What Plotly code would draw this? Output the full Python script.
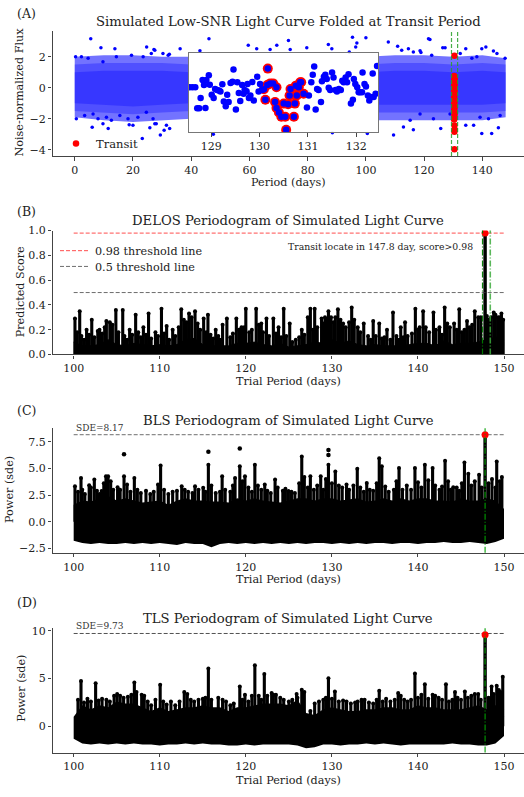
import plotly.graph_objects as go

FONT = "DejaVu Serif"
INK = "#222222"
AX = "#444444"

# ---------------- Panel A: folded light curve ----------------
cloud_days = [0, 10, 20, 30, 40, 50, 60, 70, 80, 90, 100, 110, 120, 130, 140, 148]
cloud_outer_hi = [2.0, 2.1, 2.1, 2.0, 2.0, 2.0, 2.0, 2.0, 2.0, 2.0, 2.0, 2.1, 2.1, 2.0, 2.1, 1.9]
cloud_outer_lo = [-1.9, -2.1, -2.2, -2.1, -2.0, -2.0, -2.0, -2.0, -2.0, -2.0, -2.1, -2.1, -2.1, -2.1, -2.1, -1.9]
cloud_mid_hi = [1.5, 1.6, 1.6, 1.6, 1.5, 1.5, 1.5, 1.5, 1.5, 1.5, 1.5, 1.6, 1.6, 1.5, 1.6, 1.5]
cloud_mid_lo = [-1.5, -1.6, -1.7, -1.6, -1.5, -1.5, -1.5, -1.5, -1.5, -1.5, -1.6, -1.6, -1.6, -1.6, -1.6, -1.5]
cloud_core_hi = [1.0, 1.1, 1.1, 1.1, 1.0, 1.0, 1.0, 1.0, 1.0, 1.0, 1.0, 1.1, 1.1, 1.0, 1.1, 1.0]
cloud_core_lo = [-1.0, -1.1, -1.2, -1.1, -1.0, -1.0, -1.0, -1.0, -1.0, -1.0, -1.1, -1.1, -1.1, -1.1, -1.1, -1.0]

outlier_days = [5.5, 9.0, 13.8, 24.7, 27.2, 32.5, 36.2, 43.0, 46.1, 59.6, 62.5, 67.1, 69.4, 73.4,
                74.0, 79.7, 87.1, 88.3, 94.3, 95.4, 96.5, 96.9, 100.0, 107.7, 110.9, 114.6, 118.6,
                121.5, 122.0, 126.4, 127.2, 134.3, 139.8, 141.2, 143.8,
                6.0, 9.7, 11.5, 18.7, 20.0, 23.2, 25.8, 27.5, 29.4, 30.7, 32.6, 47.6, 88.5, 100.5,
                109.5, 112.9, 116.3, 125.7, 134.3, 137.0, 139.8, 143.2, 145.5,
                0.3, 2.3, 4.6, 9.7, 14.3, 19.5, 23.5, 26.3, 27.5, 30.3, 32.1,
                112.3, 116.3, 118.9, 122.6, 132.4, 136.4, 138.1, 145.0, 147.8,
                0.55, 3.4, 6.3, 8.0, 10.9, 12.6, 15.5, 18.3, 21.7, 24.6, 26.9, 28.0, 31.5,
                115.2, 118.6, 123.2, 128.9, 139.2, 142.1, 146.1]
outlier_flux = [3.16, 2.57, 2.52, 2.63, 2.46, 2.15, 2.52, 2.38, 3.16, 2.74, 2.52, 2.46, 2.74, 3.05,
                2.46, 2.58, 2.78, 2.52, 2.31, 3.26, 2.63, 2.89, 3.22, 2.94, 2.67, 2.52, 2.38,
                3.16, 3.10, 2.57, 2.57, 2.52, 2.52, 2.63, 2.36,
                -2.55, -2.32, -2.63, -2.38, -2.42, -3.27, -2.57, -2.32, -3.05, -2.74, -2.63, -3.0, -2.9, -2.95,
                -3.05, -2.53, -2.70, -2.63, -2.42, -2.42, -2.95, -2.95, -2.57,
                2.0, 2.0, 1.9, 1.68, 2.0, 2.1, 2.0, 2.21, 2.42, 2.21, 2.1,
                2.42, 2.31, 2.27, 2.1, 2.21, 1.9, 2.0, 2.21, 1.9,
                -2.0, -1.79, -1.69, -2.0, -1.9, -2.1, -1.79, -2.0, -1.9, -1.58, -2.0, -2.32, -2.42,
                -2.1, -1.69, -2.0, -1.69, -1.9, -2.0, -1.79]

transit_days = [130.4, 130.3, 130.5, 130.4, 130.3, 130.5, 130.4, 130.3, 130.5, 130.4, 130.3, 130.5,
                130.4, 130.3, 130.5, 130.4, 130.3, 130.5, 130.4, 130.3, 130.5, 130.4, 130.4, 130.3,
                130.4, 130.5, 130.4, 130.4]
transit_flux = [2.06, 0.75, 0.62, 0.5, 0.4, 0.3, 0.2, 0.1, 0.0, -0.1, -0.2, -0.3, -0.45, -0.6, -0.78,
                -0.95, -1.1, -1.2, -1.35, -1.5, -1.65, -1.8, -1.95, -2.05, -2.43, -2.7, -2.84, -3.96]
transit_window = [129.4, 131.5]

inset_days = [128.55, 128.61, 128.67, 128.71, 128.75, 128.78, 128.82, 128.85, 128.88, 128.90,
              128.95, 128.97, 129.01, 129.05, 129.08, 129.12, 129.16, 129.19, 129.23, 129.26,
              129.30, 129.33, 129.36, 129.40, 129.44, 129.46, 129.51, 129.54, 129.57, 129.60,
              129.64, 129.67, 129.69, 129.73, 129.75, 129.78, 129.81, 129.85, 129.88, 129.95,
              129.98, 130.01, 130.05,
              130.98, 131.02, 131.07, 131.10, 131.13, 131.16, 131.19, 131.22, 131.27, 131.29,
              131.33, 131.36, 131.39, 131.43, 131.46, 131.50, 131.53, 131.57, 131.60, 131.64,
              131.68, 131.71, 131.74, 131.78, 131.81, 131.84, 131.89, 131.93, 131.95, 131.98,
              132.02, 132.05, 132.08, 132.12, 132.13, 132.17, 132.20, 132.24, 132.27, 132.30,
              132.34, 132.36, 132.40, 132.43]
inset_flux = [0.06, 0.06, 0.06, -1.26, -1.26, -0.62, 0.51, 0.20, -1.24, 0.51,
              0.82, 0.22, -0.42, -0.62, -0.05, -0.11, -0.15, -0.21, 0.24, -0.83,
              -1.14, -0.42, -0.87, 0.33, 0.41, 1.17, -1.34, 0.37, -0.31, -0.81,
              0.20, -0.35, -0.11, -0.19, 0.26, -0.62, -0.46, 0.39, -0.77, 0.72,
              -0.21, 0.26, -0.11,
              -1.22, -0.46, 0.37, 0.84, 1.36, -1.34, -0.05, -0.11, -0.87, 0.43,
              0.72, 0.84, 0.58, 0.02, -0.11, 0.98, 0.67, -0.11, -0.21, -0.05,
              -0.11, 0.47, 0.37, 0.67, 0.37, 0.88, -0.97, -0.72, 0.58, 0.26,
              0.06, -0.25, -0.25, -0.25, 0.98, 0.26, 0.10, -0.46, -0.77, -0.56,
              0.92, -0.56, -0.35, 1.40]
inset_transit_days = [130.09, 130.12, 130.16, 130.17, 130.22, 130.28, 130.32, 130.35, 130.35, 130.40,
                      130.45, 130.50, 130.53, 130.55, 130.59, 130.62, 130.64, 130.71, 130.73, 130.75,
                      130.77, 130.81, 130.84, 130.86, 130.91]
inset_transit_flux = [-0.07, -0.73, 0.20, 1.23, 0.30, 0.30, -0.87, 0.06, -1.24, -1.53,
                      -1.80, -0.97, -1.80, -2.62, -1.01, -0.46, -0.05, -1.80, -0.97, 0.16,
                      -0.46, 0.06, 0.37, 0.37, -0.35]

# ---------------- Periodograms (B, C, D) ----------------
trial_days = list(range(100, 151))
peak_period = 147.8

delos_band_hi = [0.10, 0.07, 0.07, 0.08, 0.12, 0.08, 0.07, 0.09, 0.08, 0.07, 0.08, 0.07, 0.08,
                 0.12, 0.13, 0.08, 0.07, 0.07, 0.07, 0.09, 0.09, 0.10, 0.08, 0.07, 0.09, 0.06,
                 0.07, 0.08, 0.10, 0.09, 0.12, 0.09, 0.11, 0.08, 0.07, 0.08, 0.07, 0.07, 0.07,
                 0.08, 0.09, 0.09, 0.07, 0.11, 0.08, 0.09, 0.09, 0.10, 0.12, 0.14, 0.12]
delos_spike_x = [100.15, 100.7, 101.5, 102.1, 102.8, 103.0, 103.8, 104.9, 105.7, 106.5, 107.2, 108.1,
                 108.7, 109.5, 110.2, 110.8, 111.5, 112.5, 113.4, 114.1, 115.1, 115.6, 116.5, 117.3,
                 117.8, 118.9, 119.5, 120.0, 121.2, 121.8, 122.4, 123.2, 123.8, 124.4, 125.1, 126.5,
                 127.2, 127.5, 128.0, 128.8, 129.2, 129.6, 130.7, 131.3, 132.3, 133.0, 133.7, 134.8,
                 135.5, 136.4, 137.1, 138.0, 138.5, 139.7, 140.2, 140.6, 141.8, 142.5, 143.1, 144.2,
                 144.8, 145.7, 146.6, 147.0, 148.0, 148.8, 149.3, 149.7,
                 100.4, 100.9, 101.2, 101.8, 102.4, 103.3, 103.6, 104.2, 104.5, 105.2, 105.9, 106.2,
                 106.8, 107.5, 107.8, 108.4, 109.0, 109.8, 110.5, 111.1, 111.8, 112.2, 112.8, 113.1,
                 113.7, 114.4, 114.7, 115.4, 115.9, 116.2, 116.8, 117.0, 118.2, 118.5, 119.2, 119.8,
                 120.4, 120.7, 121.5, 122.0, 122.7, 123.5, 124.1, 124.7, 125.4, 125.8, 126.2, 126.8,
                 127.8, 128.3, 129.0, 129.4, 129.9, 130.2, 130.4, 131.0, 131.6, 132.0, 132.6, 133.3,
                 134.2, 134.5, 135.1, 135.8, 136.1, 136.8, 137.5, 137.8, 138.3, 138.8, 139.3, 140.0,
                 140.9, 141.3, 142.1, 142.8, 143.4, 143.7, 144.5, 145.1, 145.4, 146.0, 146.3, 147.3,
                 148.2, 148.5, 149.0, 149.5, 149.9]
delos_spike_top = [0.29, 0.35, 0.20, 0.28, 0.19, 0.20, 0.27, 0.36, 0.36, 0.20, 0.32, 0.22,
                   0.33, 0.18, 0.37, 0.23, 0.20, 0.365, 0.33, 0.35, 0.29, 0.32, 0.20, 0.24,
                   0.29, 0.29, 0.22, 0.37, 0.37, 0.25, 0.29, 0.29, 0.22, 0.37, 0.25, 0.20,
                   0.30, 0.37, 0.37, 0.29, 0.30, 0.35, 0.365, 0.25, 0.38, 0.22, 0.25, 0.27,
                   0.25, 0.20, 0.34, 0.22, 0.26, 0.37, 0.22, 0.35, 0.34, 0.22, 0.38, 0.25,
                   0.365, 0.27, 0.35, 0.30, 0.31, 0.34, 0.30, 0.33,
                   0.18, 0.15, 0.12, 0.16, 0.14, 0.17, 0.22, 0.26, 0.24, 0.18, 0.15, 0.12,
                   0.16, 0.18, 0.14, 0.16, 0.13, 0.15, 0.17, 0.12, 0.15, 0.22, 0.28, 0.26,
                   0.30, 0.25, 0.20, 0.18, 0.16, 0.13, 0.15, 0.12, 0.14, 0.17, 0.20, 0.22,
                   0.18, 0.20, 0.24, 0.18, 0.15, 0.17, 0.14, 0.15, 0.10, 0.12, 0.14, 0.16,
                   0.20, 0.22, 0.25, 0.28, 0.30, 0.26, 0.30, 0.28, 0.22, 0.26, 0.28, 0.18,
                   0.15, 0.12, 0.15, 0.13, 0.14, 0.12, 0.15, 0.12, 0.14, 0.15, 0.17, 0.20,
                   0.22, 0.18, 0.20, 0.16, 0.25, 0.22, 0.20, 0.18, 0.20, 0.22, 0.24, 0.30,
                   0.28, 0.30, 0.32, 0.30, 0.28]
delos_peak = 0.98
delos_thresholds = [0.98, 0.5]
delos_window = [147.5, 148.4]

bls_band_hi = [1.6, 2.0, 1.9, 2.2, 2.4, 2.0, 2.2, 2.0, 1.8, 1.9, 2.0, 1.6, 2.0, 2.2, 2.0, 2.0, 1.9,
               1.9, 1.8, 2.2, 2.0, 2.2, 2.0, 1.9, 1.8, 2.0, 2.2, 2.2, 2.0, 2.2, 2.2, 2.0, 2.1, 2.2,
               1.9, 2.0, 2.2, 2.0, 2.2, 2.0, 2.2, 2.2, 2.0, 2.0, 1.9, 2.2, 2.0, 2.0, 2.2, 2.0, 1.2]
bls_band_lo = [-1.8, -2.0, -2.1, -2.0, -2.1, -2.1, -2.0, -2.1, -2.0, -2.1, -2.0, -2.1, -2.2, -2.0,
               -2.1, -2.1, -2.4, -2.1, -2.0, -2.1, -2.0, -2.1, -2.0, -2.1, -2.0, -2.1, -2.0, -2.1,
               -2.0, -2.0, -2.1, -2.0, -2.1, -2.0, -2.1, -2.0, -2.0, -2.1, -2.0, -2.0, -2.1, -2.0,
               -2.0, -1.9, -2.0, -2.0, -1.9, -2.0, -2.1, -1.9, -1.6]
bls_spike_x = [100.15, 100.85, 101.8, 102.4, 103.25, 103.75, 104.0, 105.1, 105.85, 107.05, 110.1,
               112.55, 114.1, 115.05, 115.65, 117.25, 118.75, 119.3, 119.9, 121.05, 122.2, 123.4,
               124.95, 126.5, 127.5, 128.7, 129.6, 130.4, 131.7, 132.95, 134.05, 135.5, 135.8,
               137.8, 139.65, 140.8, 141.7, 143.15, 144.1, 145.4, 145.85, 147.1, 149.15, 149.75,
               100.5, 101.0, 101.3, 102.0, 102.7, 103.0, 103.5, 104.3, 104.6, 105.4, 106.2, 106.6,
               107.4, 107.8, 108.4, 108.9, 109.3, 109.8, 110.5, 111.0, 111.5, 112.0, 112.9, 113.3,
               113.8, 114.5, 115.3, 116.0, 116.5, 117.0, 117.6, 118.2, 118.5, 119.6, 120.3, 120.7,
               121.4, 121.8, 122.5, 122.9, 123.7, 124.3, 124.6, 125.3, 125.7, 126.2, 126.8, 127.2,
               127.9, 128.3, 129.0, 129.3, 130.0, 130.8, 131.2, 132.0, 132.5, 133.3, 133.7, 134.4,
               134.8, 135.2, 136.2, 136.6, 137.2, 137.5, 138.2, 138.7, 139.2, 140.0, 140.4, 141.2,
               142.0, 142.5, 142.8, 143.5, 143.8, 144.5, 144.8, 145.1, 146.2, 146.6, 147.4, 148.2,
               148.6, 149.0, 149.5]
bls_spike_top = [3.33, 4.1, 3.43, 3.95, 2.87, 4.26, 4.26, 3.24, 4.26, 4.1, 5.28,
                 3.33, 3.33, 3.18, 5.34, 4.26, 4.1, 5.2, 4.26, 5.34, 3.49, 3.95,
                 2.87, 6.11, 4.26, 4.26, 5.34, 4.72, 3.49, 4.97, 3.64, 5.96, 5.2,
                 5.03, 5.03, 5.34, 5.03, 5.71, 3.24, 5.56, 4.5, 4.41, 5.65, 4.2,
                 2.8, 3.0, 2.6, 3.2, 2.9, 2.6, 3.6, 3.8, 3.0, 3.0, 3.5, 2.8,
                 3.0, 2.7, 2.9, 2.6, 2.8, 3.5, 3.0, 2.6, 2.8, 2.9, 3.0, 2.8,
                 2.7, 3.0, 2.8, 3.4, 2.7, 2.8, 3.0, 2.8, 3.4, 3.8, 3.2, 2.8,
                 3.4, 3.0, 2.9, 2.7, 3.2, 2.9, 3.1, 2.8, 2.7, 3.6, 4.2, 3.2,
                 3.0, 3.4, 3.0, 4.0, 3.6, 3.4, 3.2, 3.0, 3.4, 3.2, 2.8, 3.0,
                 2.9, 3.6, 3.3, 2.8, 3.0, 3.8, 3.0, 3.4, 3.0, 3.7, 3.2, 3.9,
                 3.4, 3.0, 3.3, 3.8, 3.0, 3.2, 2.9, 3.6, 3.4, 3.8, 3.2, 3.6,
                 4.0, 3.2, 3.8]
bls_dot_x = [105.85, 115.65, 119.3, 129.6, 129.6]
bls_dot_y = [6.33, 6.57, 6.88, 6.27, 6.73]
bls_sde = 8.17

tls_band_hi = [1.0, 2.2, 1.8, 2.2, 2.0, 2.6, 2.4, 2.4, 2.0, 1.6, 2.0, 1.6, 1.8, 2.0, 2.0, 2.2, 2.0,
               2.0, 1.6, 2.0, 2.0, 2.2, 2.4, 2.4, 2.4, 2.2, 2.8, 1.4, 1.2, 1.8, 2.0, 1.8, 1.6, 1.6,
               1.8, 1.8, 2.0, 2.0, 1.8, 1.8, 2.2, 2.0, 2.0, 1.8, 1.8, 1.8, 2.0, 2.2, 1.8, 2.2, 2.0]
tls_band_lo = [-1.3, -1.8, -1.9, -1.8, -1.9, -1.8, -1.9, -1.8, -1.9, -1.9, -2.0, -1.9, -1.9, -1.8,
               -1.9, -1.8, -1.9, -1.9, -2.0, -2.0, -1.9, -2.0, -1.9, -1.9, -1.9, -1.9, -2.0, -2.3,
               -2.2, -1.9, -1.9, -2.0, -1.9, -1.9, -1.8, -1.9, -1.8, -1.9, -2.0, -1.9, -1.9, -1.9,
               -1.9, -1.9, -1.8, -1.9, -1.9, -2.0, -2.0, -1.8, -1.0]
tls_spike_x = [100.85, 102.55, 105.05, 107.05, 107.9, 110.05, 112.85, 115.65, 119.3, 119.9, 121.05,
               122.15, 123.0, 123.5, 125.9, 126.5, 129.6, 130.35, 133.45, 135.5, 137.7, 139.65,
               140.8, 141.7, 143.25, 144.3, 145.45, 147.0, 148.55, 149.15, 149.85,
               100.5, 101.2, 101.6, 102.0, 102.9, 103.3, 103.8, 104.2, 104.7, 105.4, 105.8, 106.3,
               106.7, 107.3, 108.2, 108.6, 109.0, 109.5, 110.4, 110.8, 111.3, 111.8, 112.3, 113.2,
               113.6, 114.0, 114.5, 115.0, 115.3, 116.0, 116.8, 117.3, 117.7, 118.2, 118.6, 119.6,
               120.3, 120.7, 121.5, 121.8, 122.5, 123.2, 124.0, 124.4, 125.0, 125.4, 126.0, 126.8,
               127.5, 128.0, 128.5, 129.0, 129.3, 130.0, 130.8, 131.3, 131.7, 132.2, 132.7, 133.0,
               133.8, 134.3, 134.8, 135.2, 135.9, 136.3, 136.8, 137.3, 138.0, 138.4, 138.8, 139.2,
               140.0, 140.4, 141.2, 142.0, 142.4, 142.8, 143.6, 144.0, 144.6, 145.0, 145.8, 146.2,
               146.6, 147.3, 148.2, 148.8, 149.4, 149.6]
tls_spike_top = [4.76, 4.52, 3.39, 4.59, 3.32, 4.35, 3.6, 6.06, 4.18, 3.32, 6.4,
                 5.48, 3.49, 3.32, 3.39, 3.84, 5.03, 3.66, 2.8, 3.73, 3.49, 5.55,
                 4.42, 3.32, 4.42, 3.6, 3.66, 3.39, 4.18, 4.25, 5.2,
                 2.8, 2.5, 2.9, 2.6, 2.7, 2.9, 2.8, 2.6, 3.2, 3.2, 3.0, 3.1,
                 3.3, 3.6, 3.2, 2.6, 2.2, 2.8, 2.6, 2.3, 2.6, 2.2, 2.6, 3.4,
                 2.8, 2.6, 2.8, 2.9, 3.0, 2.8, 3.0, 2.8, 2.6, 2.2, 2.4, 2.8,
                 2.6, 3.2, 3.2, 2.8, 3.2, 3.3, 3.0, 2.8, 2.6, 2.8, 3.0, 3.6,
                 1.6, 2.4, 2.6, 2.8, 3.0, 2.9, 2.6, 2.7, 2.6, 2.4, 2.5, 2.6,
                 2.8, 2.5, 2.4, 2.8, 2.6, 2.9, 2.6, 2.8, 3.2, 2.8, 2.6, 2.8,
                 3.0, 3.3, 2.9, 3.2, 3.0, 2.8, 2.6, 2.8, 3.0, 2.8, 3.0, 3.2,
                 3.4, 2.8, 3.0, 3.4, 3.8, 3.6]
tls_peak = 9.6
tls_sde = 9.73

# ---------------- layout geometry ----------------
XDOM = [0.1002, 1.0]
A_DOM = [0.8086, 0.9686]
B_DOM = [0.5555, 0.7135]
C_DOM = [0.3027, 0.4614]
D_DOM = [0.0477, 0.2062]
INSET_X = [0.3607, 0.7214]
INSET_Y = [0.8394, 0.9398]
PER_RANGE = [97.54, 152.32]
SPIKE_W = 0.36

fig = go.Figure()


def band(xs, lo, hi, color, xa, ya, shape="linear"):
    fig.add_trace(go.Scatter(x=xs, y=lo, mode="lines", line=dict(width=0, shape=shape),
                             showlegend=False, hoverinfo="skip", xaxis=xa, yaxis=ya))
    fig.add_trace(go.Scatter(x=xs, y=hi, mode="lines", line=dict(width=0, shape=shape),
                             fill="tonexty", fillcolor=color, showlegend=False, hoverinfo="skip",
                             xaxis=xa, yaxis=ya))


# ---- Panel A ----
band(cloud_days, cloud_outer_lo, cloud_outer_hi, "rgba(0,0,255,0.55)", "x", "y")
band(cloud_days, cloud_mid_lo, cloud_mid_hi, "rgba(0,0,255,0.3)", "x", "y")
band(cloud_days, cloud_core_lo, cloud_core_hi, "rgba(0,0,255,0.3)", "x", "y")
fig.add_trace(go.Scatter(x=outlier_days, y=outlier_flux, mode="markers",
                         marker=dict(color="blue", size=3.5, line=dict(width=0)),
                         showlegend=False, xaxis="x", yaxis="y"))
fig.add_trace(go.Scatter(x=transit_days, y=transit_flux, mode="markers", name="Transit",
                         marker=dict(color="red", size=6.5, line=dict(width=0)),
                         legend="legend", xaxis="x", yaxis="y"))

# ---- Inset ----
fig.add_trace(go.Scatter(x=inset_transit_days, y=inset_transit_flux, mode="markers",
                         marker=dict(color="red", size=10, line=dict(width=0)),
                         showlegend=False, xaxis="x2", yaxis="y2"))
fig.add_trace(go.Scatter(x=inset_days + inset_transit_days, y=inset_flux + inset_transit_flux,
                         mode="markers", marker=dict(color="blue", size=6.5, line=dict(width=0)),
                         showlegend=False, xaxis="x2", yaxis="y2"))


def spikes(xs, tops, xa, ya):
    fig.add_trace(go.Bar(x=xs, y=tops, base=0, width=SPIKE_W,
                         marker=dict(color="black", line=dict(width=0)), showlegend=False,
                         xaxis=xa, yaxis=ya))
    fig.add_trace(go.Scatter(x=xs, y=tops, mode="markers",
                             marker=dict(color="black", size=4, line=dict(width=0)),
                             showlegend=False, xaxis=xa, yaxis=ya))


# ---- Panel B ----
fig.add_trace(go.Scatter(x=trial_days, y=delos_band_hi, mode="lines", line=dict(color="black", width=1),
                         fill="tozeroy", fillcolor="black", showlegend=False, hoverinfo="skip",
                         xaxis="x3", yaxis="y3"))
spikes(delos_spike_x, delos_spike_top, "x3", "y3")
fig.add_trace(go.Bar(x=[peak_period], y=[delos_peak], base=0, width=0.4,
                     marker=dict(color="black", line=dict(width=0)), showlegend=False,
                     xaxis="x3", yaxis="y3"))
fig.add_trace(go.Scatter(x=[trial_days[0], trial_days[-1]], y=[delos_thresholds[0]] * 2, mode="lines",
                         name="0.98 threshold line",
                         line=dict(color="rgba(255,0,0,0.7)", width=1, dash="4px,2px"),
                         legend="legend2", xaxis="x3", yaxis="y3"))
fig.add_trace(go.Scatter(x=[trial_days[0], trial_days[-1]], y=[delos_thresholds[1]] * 2, mode="lines",
                         name="0.5 threshold line",
                         line=dict(color="rgba(60,60,60,0.75)", width=1, dash="4px,2px"),
                         legend="legend3", xaxis="x3", yaxis="y3"))
fig.add_trace(go.Scatter(x=[peak_period], y=[delos_peak], mode="markers",
                         marker=dict(color="red", size=7), showlegend=False, xaxis="x3", yaxis="y3"))

# ---- Panel C ----
band(trial_days, bls_band_lo, bls_band_hi, "black", "x4", "y4")
spikes(bls_spike_x, bls_spike_top, "x4", "y4")
fig.add_trace(go.Scatter(x=bls_dot_x, y=bls_dot_y, mode="markers",
                         marker=dict(color="black", size=4.5), showlegend=False, xaxis="x4", yaxis="y4"))
fig.add_trace(go.Bar(x=[peak_period], y=[bls_sde], base=0, width=0.4,
                     marker=dict(color="black", line=dict(width=0)), showlegend=False,
                     xaxis="x4", yaxis="y4"))
fig.add_trace(go.Scatter(x=[trial_days[0], trial_days[-1]], y=[bls_sde] * 2, mode="lines",
                         line=dict(color="rgba(110,110,110,0.8)", width=1.2, dash="4px,2px"),
                         showlegend=False, xaxis="x4", yaxis="y4"))
fig.add_trace(go.Scatter(x=[peak_period], y=[bls_sde], mode="markers",
                         marker=dict(color="red", size=7), showlegend=False, xaxis="x4", yaxis="y4"))

# ---- Panel D ----
band(trial_days, tls_band_lo, tls_band_hi, "black", "x5", "y5")
spikes(tls_spike_x, tls_spike_top, "x5", "y5")
fig.add_trace(go.Bar(x=[peak_period], y=[tls_peak], base=0, width=0.4,
                     marker=dict(color="black", line=dict(width=0)), showlegend=False,
                     xaxis="x5", yaxis="y5"))
fig.add_trace(go.Scatter(x=[trial_days[0], trial_days[-1]], y=[tls_sde] * 2, mode="lines",
                         line=dict(color="rgba(40,40,40,0.8)", width=1, dash="4px,2px"),
                         showlegend=False, xaxis="x5", yaxis="y5"))
fig.add_trace(go.Scatter(x=[peak_period], y=[tls_peak], mode="markers",
                         marker=dict(color="red", size=7), showlegend=False, xaxis="x5", yaxis="y5"))

# ---- reference vertical lines ----
shapes = []
for xv in transit_window:
    shapes.append(dict(type="line", xref="x", yref="y domain", x0=xv, x1=xv, y0=0, y1=1,
                       line=dict(color="rgba(40,160,40,0.85)", width=1.2, dash="4px,2px")))
shapes.append(dict(type="line", xref="x3", yref="y3 domain", x0=delos_window[0], x1=delos_window[0],
                   y0=0, y1=1, line=dict(color="rgba(0,120,0,0.95)", width=1.2, dash="6px,2px,1px,2px")))
shapes.append(dict(type="line", xref="x3", yref="y3 domain", x0=delos_window[1], x1=delos_window[1],
                   y0=0, y1=1, line=dict(color="rgba(60,170,60,0.85)", width=1.6, dash="6px,2px,1px,2px")))
for xa in ["x4", "x5"]:
    shapes.append(dict(type="line", xref=xa, yref=xa.replace("x", "y") + " domain", x0=peak_period,
                       x1=peak_period, y0=0, y1=1,
                       line=dict(color="rgba(0,160,0,0.9)", width=1.2, dash="6px,2px,1px,2px")))


def txt(x, y, s, size=12, xanchor="center", yanchor="middle", angle=0, color=INK, xref="paper", yref="paper"):
    return dict(x=x, y=y, xref=xref, yref=yref, text=s, showarrow=False, xanchor=xanchor,
                yanchor=yanchor, textangle=angle, font=dict(family=FONT, size=size, color=color))


H = 797.0
W = 524.0


def py(p):
    return 1 - p / H


mid = (XDOM[0] + XDOM[1]) / 2
TS = 13.2
LS = 11.2
ann = [
    txt(15 / W, py(8), "(A)", 12.5, xanchor="left"),
    txt(mid, py(16), "Simulated Low-SNR Light Curve Folded at Transit Period", TS),
    txt(mid, py(179), "Period (days)", LS),
    txt(20 / W, py(88), "Noise-normalized Flux", LS, angle=-90),
    txt(15 / W, py(209), "(B)", 12.5, xanchor="left"),
    txt(mid, py(218), "DELOS Periodogram of Simulated Light Curve", TS),
    txt(mid, py(382), "Trial Period (days)", LS),
    txt(20 / W, py(291), "Predicted Score", LS, angle=-90),
    txt(146.63, 0.875, "Transit locate in 147.8 day, score>0.98", 9.3, xanchor="right",
        xref="x3", yref="y3"),
    txt(15 / W, py(411), "(C)", 12.5, xanchor="left"),
    txt(mid, py(421), "BLS Periodogram of Simulated Light Curve", TS),
    txt(mid, py(583), "Trial Period (days)", LS),
    txt(10 / W, py(492), "Power (sde)", LS, angle=-90),
    txt(trial_days[0], bls_sde, "SDE=%.2f" % bls_sde, 9, xanchor="left", yanchor="bottom",
        xref="x4", yref="y4", color="#333333"),
    txt(15 / W, py(606), "(D)", 12.5, xanchor="left"),
    txt(mid, py(623), "TLS Periodogram of Simulated Light Curve", TS),
    txt(mid, py(787), "Trial Period (days)", LS),
    txt(22 / W, py(694), "Power (sde)", LS, angle=-90),
    txt(trial_days[0], tls_sde, "SDE=%.2f" % tls_sde, 9, xanchor="left", yanchor="bottom",
        xref="x5", yref="y5", color="#333333"),
]

axis_common = dict(showline=True, linecolor=AX, linewidth=1.3, ticks="outside", ticklen=3.5,
                   tickwidth=1, tickcolor=AX, showgrid=False, zeroline=False,
                   tickfont=dict(family=FONT, size=11, color=INK))
inset_x_axis = dict(axis_common)
inset_x_axis["linecolor"] = "#777777"

fig.update_layout(
    width=524, height=797, margin=dict(l=0, r=0, t=0, b=0),
    paper_bgcolor="white", plot_bgcolor="white",
    barmode="overlay",
    font=dict(family=FONT, size=11, color=INK),
    xaxis=dict(domain=XDOM, range=[-7.63, 154.3], anchor="y", tickvals=[0, 20, 40, 60, 80, 100, 120, 140],
               **axis_common),
    yaxis=dict(domain=A_DOM, range=[-4.4, 3.68], anchor="x", tickvals=[-4, -2, 0, 2], **axis_common),
    xaxis2=dict(domain=INSET_X, range=[128.54, 132.45], anchor="y2", tickvals=[129, 130, 131, 132],
                mirror=True, **inset_x_axis),
    yaxis2=dict(domain=INSET_Y, range=[-2.75, 2.2], anchor="x2", showticklabels=False, ticks="",
                showline=True, mirror=True, linecolor="#777777", linewidth=1.3, showgrid=False,
                zeroline=False),
    xaxis3=dict(domain=XDOM, range=PER_RANGE, anchor="y3", tickvals=[100, 110, 120, 130, 140, 150],
                **axis_common),
    yaxis3=dict(domain=B_DOM, range=[0, 1.0], anchor="x3", tickvals=[0, 0.2, 0.4, 0.6, 0.8, 1.0],
                tickformat=".1f", **axis_common),
    xaxis4=dict(domain=XDOM, range=PER_RANGE, anchor="y4", tickvals=[100, 110, 120, 130, 140, 150],
                **axis_common),
    yaxis4=dict(domain=C_DOM, range=[-2.91, 8.77], anchor="x4", tickvals=[-2.5, 0, 2.5, 5, 7.5],
                tickformat=".1f", **axis_common),
    xaxis5=dict(domain=XDOM, range=PER_RANGE, anchor="y5", tickvals=[100, 110, 120, 130, 140, 150],
                **axis_common),
    yaxis5=dict(domain=D_DOM, range=[-2.75, 10.27], anchor="x5", tickvals=[0, 5, 10], **axis_common),
    legend=dict(x=56 / W, y=py(125), xanchor="left", yanchor="top", bgcolor="rgba(0,0,0,0)",
                font=dict(family=FONT, size=11.5, color=INK)),
    legend2=dict(x=55 / W, y=py(234), xanchor="left", yanchor="top", bgcolor="rgba(0,0,0,0)",
                 font=dict(family=FONT, size=11.2, color=INK)),
    legend3=dict(x=55 / W, y=py(250), xanchor="left", yanchor="top", bgcolor="rgba(0,0,0,0)",
                 font=dict(family=FONT, size=11.2, color=INK)),
    shapes=shapes,
    annotations=ann,
)

fig.write_html("out.html")
